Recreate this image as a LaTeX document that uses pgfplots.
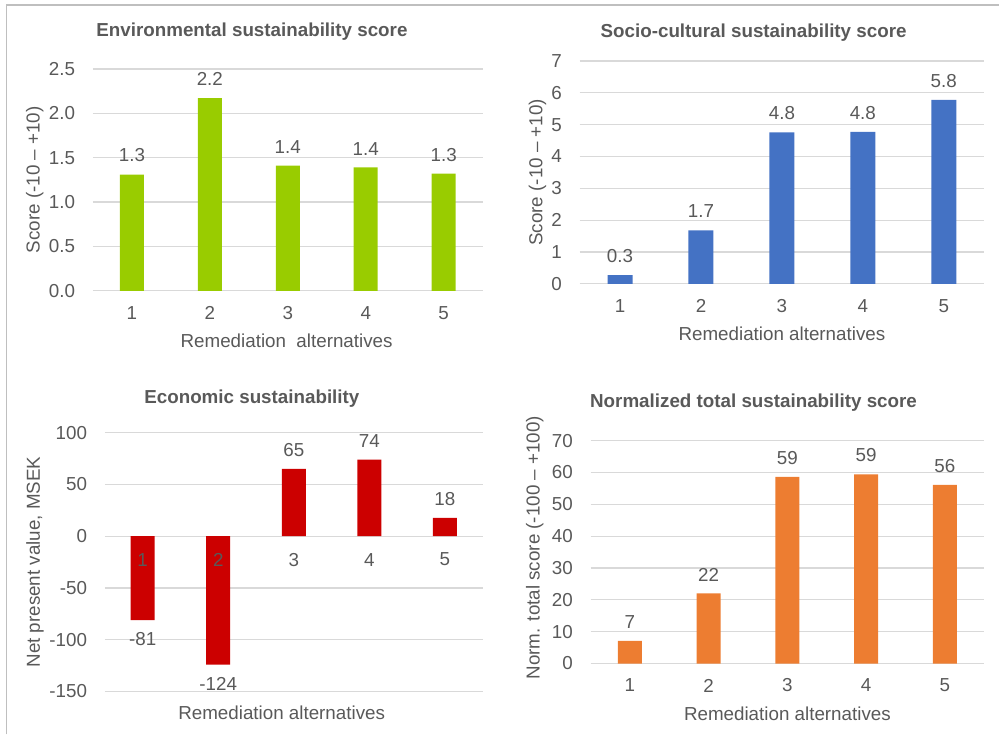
\documentclass[border=0pt]{standalone}
\usepackage{pgfplots}
\usepackage{pgfplotstable}
\pgfplotsset{compat=1.18}
\usepackage{fontspec}
\setmainfont{Liberation Sans}

\definecolor{txt}{HTML}{595959}
\definecolor{gridc}{HTML}{D9D9D9}
\definecolor{framec}{HTML}{BFBFBF}
\definecolor{envgreen}{HTML}{99CC00}
\definecolor{socblue}{HTML}{4472C4}
\definecolor{ecored}{HTML}{CC0000}
\definecolor{totorange}{HTML}{ED7D31}

\newcommand\fs{\fontsize{9.4}{11.2}\selectfont}

% scores per remediation alternative
\pgfplotstableread{
alt val
1 1.31
2 2.17
3 1.41
4 1.39
5 1.32
}\envdata
\pgfplotstableread{
alt val
1 0.27
2 1.68
3 4.76
4 4.77
5 5.78
}\socdata
\pgfplotstableread{
alt val
1 -81
2 -124
3 65
4 74
5 17.6
}\ecodata
\pgfplotstableread{
alt val
1 7.1
2 22.0
3 58.6
4 59.4
5 56.1
}\totdata

\pgfplotsset{
  % grid under the bars, tick labels over them
  layers/ticksontop/.define layer set={
    axis background,axis grid,axis ticks,axis lines,main,
    axis tick labels,axis descriptions,axis foreground}{
    grid style={/pgfplots/on layer=axis grid},
    tick style={/pgfplots/on layer=axis ticks},
    axis line style={/pgfplots/on layer=axis lines},
    ticklabel style={/pgfplots/on layer=axis tick labels},
    label style={/pgfplots/on layer=axis descriptions},
    title style={/pgfplots/on layer=axis descriptions},
  },
  panel/.style={
    scale only axis, anchor=south west, clip=false,
    set layers=ticksontop,
    xmin=0.5, xmax=5.5, xtick={1,2,3,4,5},
    ybar, bar shift=0pt,
    axis line style={draw=none},
    major tick length=0pt,
    ymajorgrids, grid style={draw=gridc, line width=0.6pt},
    xticklabel style={anchor=center, yshift=-11pt},
    yticklabel style={xshift=-5.4pt},
    tick label style={font=\fs, text=txt},
    label style={font=\fs, text=txt},
    title style={font=\fs\bfseries, text=txt, anchor=center, yshift=-6pt},
    every node near coord/.append style={font=\fs, text=txt, inner ysep=6pt},
    /pgf/number format/assume math mode=true,
  },
}

\begin{document}
\begin{tikzpicture}
\path (0pt,0pt) rectangle (500pt,-367.5pt);
\draw[framec, line width=0.75pt] (3.25pt,-367.5pt) -- (3.25pt,-2.5pt) -- (500pt,-2.5pt);

% Environmental
\begin{axis}[panel, at={(46.5pt,-145.5pt)}, width=195pt, height=111pt,
  ymin=0, ymax=2.5, ytick={0,0.5,1,1.5,2,2.5},
  yticklabel style={/pgf/number format/.cd, fixed, fixed zerofill, precision=1},
  bar width=12pt,
  nodes near coords={\pgfmathprintnumber[fixed,fixed zerofill,precision=1]{\pgfplotspointmeta}},
  title={Environmental sustainability score},
  title style={at={(axis description cs:0.408,1.167)}},
  xlabel={Remediation\ \ alternatives},
  xlabel style={at={(axis description cs:0.497,-0.225)}, anchor=center},
  ylabel={Score (-10 – +10)},
  ylabel style={at={(axis description cs:-0.149,0.5)}, anchor=center},
]
\addplot[fill=envgreen, draw=none] table[x=alt, y=val]{\envdata};
\end{axis}

% Socio-cultural
\begin{axis}[panel, at={(290pt,-142pt)}, width=202.5pt, height=111.5pt,
  ymin=0, ymax=7, ytick={0,1,...,7},
  bar width=12.5pt,
  nodes near coords={\pgfmathprintnumber[fixed,fixed zerofill,precision=1]{\pgfplotspointmeta}},
  title={Socio-cultural sustainability score},
  title style={at={(axis description cs:0.430,1.126)}},
  xlabel={Remediation alternatives},
  xlabel style={at={(axis description cs:0.5,-0.224)}, anchor=center},
  ylabel={Score (-10 – +10)},
  ylabel style={at={(axis description cs:-0.104,0.5)}, anchor=center},
]
\addplot[fill=socblue, draw=none] table[x=alt, y=val]{\socdata};
\end{axis}

% Economic: category labels sit just below the zero line
\begin{axis}[panel, at={(52.5pt,-346pt)}, width=189pt, height=129.5pt,
  xticklabel style={yshift=77pt},
  ymin=-150, ymax=100, ytick={-150,-100,...,100},
  bar width=12pt,
  nodes near coords={\pgfmathprintnumber[fixed,precision=0]{\pgfplotspointmeta}},
  title={Economic sustainability},
  title style={at={(axis description cs:0.389,1.131)}},
  xlabel={Remediation alternatives},
  xlabel style={at={(axis description cs:0.468,-0.081)}, anchor=center},
  ylabel={Net present value, MSEK},
  ylabel style={at={(axis description cs:-0.185,0.5)}, anchor=center},
]
\addplot[fill=ecored, draw=none] table[x=alt, y=val]{\ecodata};
\end{axis}

% Normalized total
\begin{axis}[panel, at={(295.5pt,-332pt)}, width=197pt, height=111.5pt,
  ymin=0, ymax=70, ytick={0,10,...,70},
  bar width=12pt,
  nodes near coords={\pgfmathprintnumber[fixed,precision=0]{\pgfplotspointmeta}},
  title={Normalized total sustainability score},
  title style={at={(axis description cs:0.414,1.170)}},
  xlabel={Remediation alternatives},
  xlabel style={at={(axis description cs:0.5,-0.224)}, anchor=center},
  ylabel={Norm. total score (-100 – +100)},
  ylabel style={at={(axis description cs:-0.142,0.52)}, anchor=center},
]
\addplot[fill=totorange, draw=none] table[x=alt, y=val]{\totdata};
\end{axis}
\end{tikzpicture}
\end{document}
